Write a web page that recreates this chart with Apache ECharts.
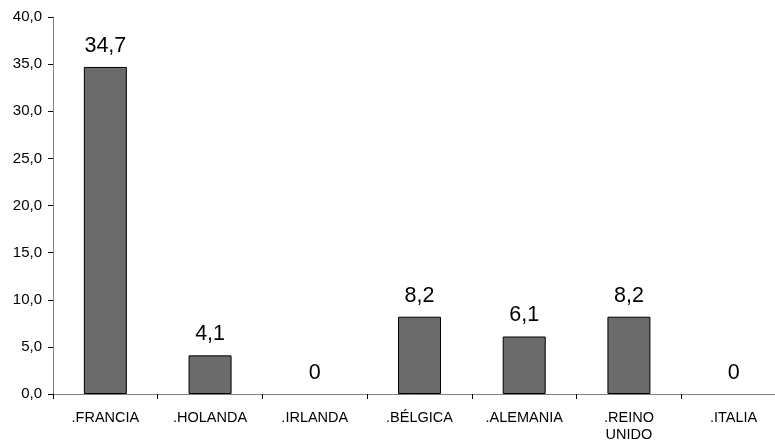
<!DOCTYPE html>
<html><head><meta charset="utf-8">
<script src="https://cdn.jsdelivr.net/npm/echarts@6/dist/echarts.min.js"></script>
<style>html,body{margin:0;padding:0;background:#fff}#c{width:775px;height:441px}</style>
</head><body><div id="c"></div>
<script>
var categories = ['.FRANCIA', '.HOLANDA', '.IRLANDA', '.BÉLGICA', '.ALEMANIA', '.REINO\nUNIDO', '.ITALIA'];
var values = [34.7, 4.1, 0, 8.2, 6.1, 8.2, 0];
var yMin = 0, yMax = 40, yStep = 5;

var seriesData = values.map(function (v) {
  return v === 0 ? {value: v, itemStyle: {borderWidth: 0}} : v;
});

var chart = echarts.init(document.getElementById('c'), null, {renderer: 'canvas'});
chart.setOption({
  animation: false,
  grid: {left: 53, width: 733, top: 17, bottom: 47, containLabel: false, outerBoundsMode: 'none'},
  xAxis: {
    type: 'category', data: categories,
    axisLine: {lineStyle: {color: '#808080', width: 1}},
    axisTick: {show: true, length: 5, lineStyle: {color: '#000'}},
    axisLabel: {color: '#000', fontFamily: 'Liberation Sans, Arial', fontSize: 14.5, margin: 15, lineHeight: 17}
  },
  yAxis: {
    type: 'value', min: yMin, max: yMax, interval: yStep,
    splitLine: {show: false},
    axisLine: {show: true, lineStyle: {color: '#808080', width: 1}},
    axisTick: {show: true, length: 5, lineStyle: {color: '#000'}},
    axisLabel: {color: '#000', fontFamily: 'Liberation Sans, Arial', fontSize: 15, margin: 11,
      formatter: function (v) { return v.toFixed(1).replace('.', ','); }}
  },
  series: [{
    type: 'bar', data: seriesData, barWidth: 43,
    itemStyle: {color: '#6b6b6b', borderColor: '#000', borderWidth: 1},
    label: {show: true, position: 'top', distance: 10, color: '#000', fontFamily: 'Liberation Sans, Arial', fontSize: 21.5,
      formatter: function (p) { return p.value === 0 ? '0' : p.value.toFixed(1).replace('.', ','); }}
  }]
});
</script></body></html>
